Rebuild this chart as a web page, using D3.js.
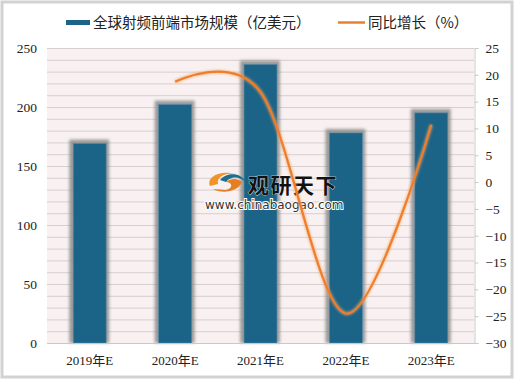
<!DOCTYPE html>
<html>
<head>
<meta charset="utf-8">
<script src="https://d3js.org/d3.v7.min.js"></script>
<style>
  body { margin: 0; background: #fff; }
</style>
</head>
<body>
<div id="chart"></div>
<script>
// data
var years = ["2019年E", "2020年E", "2021年E", "2022年E", "2023年E"];
var market = [169, 202, 236, 178, 195];           // 亿美元
var growth = [null, 18.7, 16.8, -24.5, 10.7];     // %
var leftTicks = [0, 50, 100, 150, 200, 250];
var rightTicks = [-30, -25, -20, -15, -10, -5, 0, 5, 10, 15, 20, 25];

var W = 520, H = 383;
var plot = {left: 47, right: 474, top: 48, bottom: 343};

var svg = d3.select("#chart").append("svg")
    .attr("width", W)
    .attr("height", H);

var defs = svg.append("defs");
defs.append("filter").attr("id", "blur")
    .attr("x", "-20%").attr("y", "-20%").attr("width", "140%").attr("height", "140%")
  .append("feGaussianBlur").attr("stdDeviation", 1.6);
defs.append("filter").attr("id", "glow")
    .attr("x", "-10%").attr("y", "-10%").attr("width", "120%").attr("height", "120%")
  .append("feGaussianBlur").attr("stdDeviation", 1.2);

// outer frame
svg.append("rect")
    .attr("x", 2).attr("y", 2).attr("width", 510).attr("height", 375)
    .attr("fill", "#fff")
    .attr("stroke", "#d2d2d2")
    .attr("stroke-width", 3);

var x = d3.scaleBand().domain(years).range([plot.left, plot.right]);
var yL = d3.scaleLinear().domain([0, 250]).range([plot.bottom, plot.top]);
var yR = d3.scaleLinear().domain([-30, 25]).range([plot.bottom, plot.top]);

// plot background
svg.append("rect")
    .attr("x", plot.left).attr("y", plot.top)
    .attr("width", plot.right - plot.left).attr("height", plot.bottom - plot.top)
    .attr("fill", "#f9f1f1");

// gridlines every 10
svg.append("g").selectAll("line")
    .data(d3.range(10, 251, 10))
    .enter().append("line")
    .attr("x1", plot.left).attr("x2", plot.right)
    .attr("y1", function(d) { return yL(d) + 0.5; })
    .attr("y2", function(d) { return yL(d) + 0.5; })
    .attr("stroke", "#d6cfcf")
    .attr("stroke-width", 1);

// bars
var bw = x.bandwidth() * 0.385;
var bars = svg.append("g");
bars.selectAll(".shadow")
    .data(market)
    .enter().append("rect")
    .attr("class", "shadow")
    .attr("x", function(d, i) { return x(years[i]) + x.bandwidth() / 2 - bw / 2 - 4; })
    .attr("y", function(d) { return yL(d) - 4; })
    .attr("width", bw + 7)
    .attr("height", function(d) { return plot.bottom - yL(d) + 4; })
    .attr("fill", "#8a8a8a")
    .attr("opacity", 0.85)
    .attr("filter", "url(#blur)");
bars.selectAll(".bar")
    .data(market)
    .enter().append("rect")
    .attr("class", "bar")
    .attr("x", function(d, i) { return x(years[i]) + x.bandwidth() / 2 - bw / 2; })
    .attr("y", function(d) { return yL(d); })
    .attr("width", bw)
    .attr("height", function(d) { return plot.bottom - yL(d); })
    .attr("fill", "#1b6487")
    .attr("stroke", "#4f88a8")
    .attr("stroke-width", 0.6);

// bottom axis line
svg.append("line")
    .attr("x1", plot.left).attr("x2", plot.right + 4)
    .attr("y1", plot.bottom + 0.5).attr("y2", plot.bottom + 0.5)
    .attr("stroke", "#c9c9c9");

// right axis
var rAxis = svg.append("g").attr("transform", "translate(" + (plot.right + 0.5) + ",0)")
    .call(d3.axisRight(yR).tickValues(rightTicks).tickSize(4).tickPadding(7)
      .tickFormat(function(d) { return d < 0 ? "\u2212" + Math.abs(d) : d; }));
rAxis.select(".domain").attr("stroke", "#c9c9c9");
rAxis.selectAll(".tick line").attr("stroke", "#c9c9c9");
rAxis.selectAll("text")
    .attr("font-family", "Liberation Serif, serif")
    .attr("font-size", 13.5)
    .attr("fill", "#222");

// left axis (labels only)
var lAxis = svg.append("g").attr("transform", "translate(" + plot.left + ",0)")
    .call(d3.axisLeft(yL).tickValues(leftTicks).tickSize(0).tickPadding(10));
lAxis.select(".domain").remove();
lAxis.selectAll("text")
    .attr("font-family", "Liberation Serif, serif")
    .attr("font-size", 13.5)
    .attr("fill", "#222");

// category labels
var xAxis = svg.append("g").attr("transform", "translate(0," + plot.bottom + ")")
    .call(d3.axisBottom(x).tickSize(0).tickPadding(13));
xAxis.select(".domain").remove();
xAxis.selectAll("text")
    .attr("font-family", "Liberation Serif, Noto Sans CJK SC, serif")
    .attr("font-size", 13)
    .attr("fill", "#222");

// watermark
var wm = svg.append("g");
wm.append("path")
    .attr("d", "M210,186 C206,176 222,170 236,174 C228,172 216,176 218,184 Z")
    .attr("fill", "#f0932b");
wm.append("path")
    .attr("d", "M213,189 C222,194 238,192 242,182 C238,178 230,178 226,182 C232,182 234,188 226,190 Z")
    .attr("fill", "#e67e22");
wm.append("path")
    .attr("d", "M220,180 C226,172 242,172 245,182 C240,176 230,176 226,182 Z")
    .attr("fill", "#1f6e8c");
wm.append("text")
    .attr("x", 248).attr("y", 193)
    .attr("font-family", "Noto Sans CJK SC, sans-serif")
    .attr("font-weight", "bold")
    .attr("font-size", 21)
    .attr("letter-spacing", 1.5)
    .attr("fill", "#111")
    .attr("stroke", "#fff").attr("stroke-width", 0.6).attr("paint-order", "stroke")
    .text("观研天下");
wm.append("text")
    .attr("x", 205).attr("y", 209)
    .attr("font-family", "DejaVu Sans, sans-serif")
    .attr("font-size", 12)
    .attr("fill", "#333")
    .attr("stroke", "#fff").attr("stroke-width", 2).attr("paint-order", "stroke")
    .text("www.chinabaogao.com");

// growth line (smooth)
var pts = growth.map(function(g, i) { return {g: g, c: years[i]}; })
    .filter(function(d) { return d.g !== null; });
var line = d3.line()
    .x(function(d) { return x(d.c) + x.bandwidth() / 2; })
    .y(function(d) { return yR(d.g); })
    .curve(d3.curveCardinal.tension(0));
svg.append("path")
    .datum(pts)
    .attr("d", line)
    .attr("fill", "none")
    .attr("stroke", "#f6a35e")
    .attr("stroke-width", 4)
    .attr("opacity", 0.6)
    .attr("filter", "url(#glow)");
svg.append("path")
    .datum(pts)
    .attr("d", line)
    .attr("fill", "none")
    .attr("stroke", "#ee7d2c")
    .attr("stroke-width", 2.2);

// legend
var lg = svg.append("g");
lg.append("rect").attr("x", 66).attr("y", 20).attr("width", 24).attr("height", 5).attr("fill", "#1b6487");
lg.append("text").attr("x", 93).attr("y", 28)
    .attr("font-family", "Noto Sans CJK SC, sans-serif")
    .attr("font-size", 14.5).attr("fill", "#222")
    .text("全球射频前端市场规模（亿美元）");
lg.append("line").attr("x1", 338).attr("x2", 365).attr("y1", 22.5).attr("y2", 22.5)
    .attr("stroke", "#ee7d2c").attr("stroke-width", 2.5);
lg.append("text").attr("x", 368).attr("y", 28)
    .attr("font-family", "Noto Sans CJK SC, sans-serif")
    .attr("font-size", 14.5).attr("fill", "#222")
    .text("同比增长（%）");
</script>
</body>
</html>
